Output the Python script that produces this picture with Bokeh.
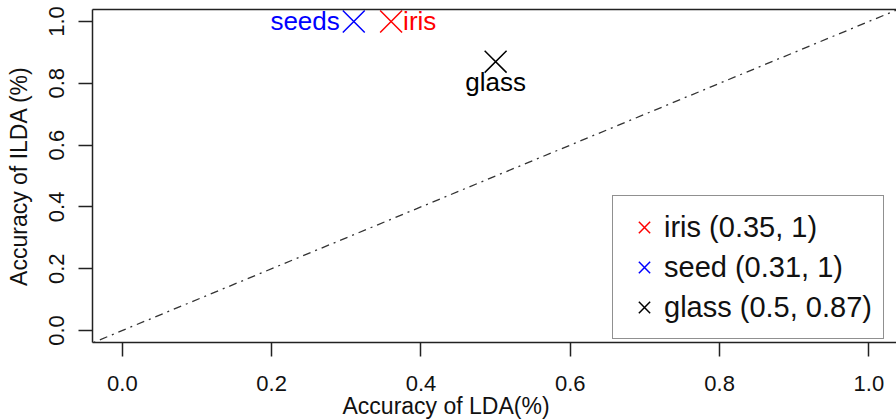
from bokeh.plotting import figure
from bokeh.models import (Range1d, LinearAxis, FixedTicker, Legend, LegendItem,
                          Slope, Title, PrintfTickFormatter)
from bokeh.core.properties import value
from bokeh.embed import file_html
from bokeh.resources import INLINE

# ---- data ----
datasets = ["iris", "seed", "glass"]
point_labels = ["iris", "seeds", "glass"]
lda_acc = [0.36, 0.31, 0.50]
ilda_acc = [1.00, 1.00, 0.87]
colors = ["#FF0000", "#0000FF", "#000000"]
legend_labels = ["iris (0.35, 1)", "seed (0.31, 1)", "glass (0.5, 0.87)"]
x_ticks = [0.0, 0.2, 0.4, 0.6, 0.8, 1.0]
y_ticks = [0.0, 0.2, 0.4, 0.6, 0.8, 1.0]
ref_slope = 1.0
ref_intercept = 0.0

FONT = "Liberation Sans"
AX_COL = "#222222"

p = figure(width=896, height=419, output_backend="svg", toolbar_location=None,
           x_range=Range1d(-0.04, 1.037), y_range=Range1d(-0.0388, 1.0388),
           min_border_left=92, min_border_right=0, min_border_top=9,
           min_border_bottom=77, y_axis_label="Accuracy of ILDA (%)")
p.xgrid.visible = False
p.ygrid.visible = False
p.outline_line_color = None
p.background_fill_color = "white"
p.border_fill_color = "white"

for ax in (p.xaxis[0], p.yaxis[0]):
    ax.major_tick_out = 14
    ax.major_tick_in = 0
    ax.minor_tick_line_color = None
    ax.axis_line_width = 1.5
    ax.axis_line_color = AX_COL
    ax.major_tick_line_width = 1.5
    ax.major_tick_line_color = AX_COL
    ax.major_label_text_font = FONT
    ax.major_label_text_font_size = "22px"
    ax.major_label_text_color = "#111111"
    ax.formatter = PrintfTickFormatter(format="%.1f")
    ax.axis_label_text_font = FONT
    ax.axis_label_text_font_size = "23px"
    ax.axis_label_text_font_style = "normal"
    ax.axis_label_text_color = "#111111"

p.xaxis[0].ticker = FixedTicker(ticks=x_ticks)
p.yaxis[0].ticker = FixedTicker(ticks=y_ticks)
p.xaxis[0].major_label_standoff = 19
p.yaxis[0].major_label_standoff = 14
p.yaxis[0].major_label_orientation = "vertical"
p.yaxis[0].axis_label_standoff = 15

top = LinearAxis(ticker=FixedTicker(ticks=[]), axis_line_width=1.5,
                 axis_line_color=AX_COL, major_tick_out=0, major_tick_in=0,
                 minor_tick_line_color=None, major_label_text_font_size="0px")
p.add_layout(top, "above")

xt = Title(text="Accuracy of LDA(%)", align="left", offset=250, standoff=-5,
           text_font=FONT, text_font_size="23px", text_font_style="normal",
           text_color="#111111")
p.add_layout(xt, "below")

# reference diagonal
p.add_layout(Slope(gradient=ref_slope, y_intercept=ref_intercept,
                   line_color="#333333", line_width=1.3, line_dash="2 5 8 5"))

renderers = []
for i in range(len(datasets)):
    r = p.scatter(x=[lda_acc[i]], y=[ilda_acc[i]], marker="x", size=31,
                  line_color=colors[i], line_width=1.5)
    renderers.append(r)

# point labels
p.text(x=[lda_acc[0]], y=[ilda_acc[0]], text=[point_labels[0]], text_align="left",
       text_baseline="middle", x_offset=12, text_color=colors[0],
       text_font=value(FONT), text_font_size="26px")
p.text(x=[lda_acc[1]], y=[ilda_acc[1]], text=[point_labels[1]], text_align="right",
       text_baseline="middle", x_offset=-14, text_color=colors[1],
       text_font=value(FONT), text_font_size="26px")
p.text(x=[lda_acc[2]], y=[ilda_acc[2]], text=[point_labels[2]], text_align="center",
       text_baseline="top", y_offset=5, text_color=colors[2],
       text_font=value(FONT), text_font_size="26px")

legend = Legend(items=[LegendItem(label=legend_labels[i], renderers=[renderers[i]])
                       for i in range(len(datasets))],
                location=(520, 3), margin=0, padding=11, spacing=0,
                glyph_width=40, glyph_height=40, label_height=40, label_standoff=0,
                label_text_font=FONT, label_text_font_size="29px",
                label_text_color="#111111",
                border_line_color="#222222", border_line_width=1.5,
                background_fill_color="white", background_fill_alpha=1.0)
p.add_layout(legend, "center")

open("out.html", "w").write(file_html(p, INLINE))
